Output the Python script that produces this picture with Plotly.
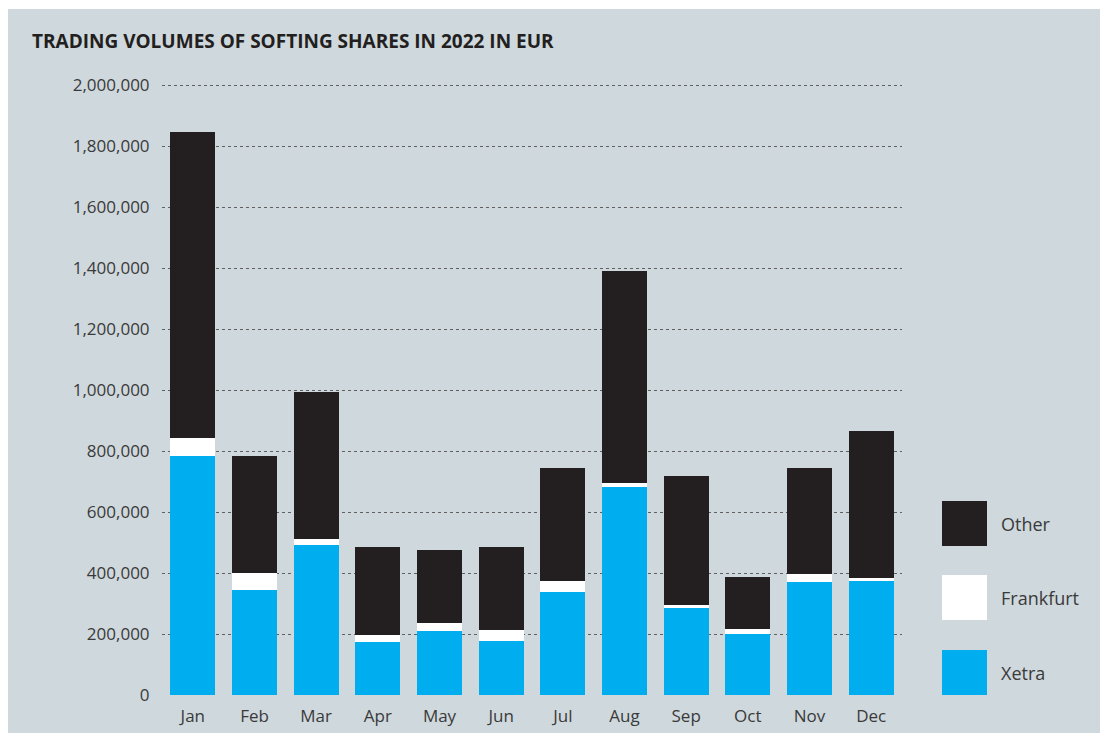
import plotly.graph_objects as go

months = ["Jan", "Feb", "Mar", "Apr", "May", "Jun", "Jul", "Aug", "Sep", "Oct", "Nov", "Dec"]
xetra = [782000, 345000, 493000, 175000, 210000, 177000, 338000, 683000, 286000, 200000, 371000, 374000]
frankfurt = [59000, 56000, 19000, 22000, 26000, 36000, 36000, 13000, 10000, 17000, 26000, 10000]
other = [1005000, 384000, 480000, 289000, 240000, 273000, 371000, 693000, 423000, 171000, 348000, 483000]
series_names = ["Other", "Frankfurt", "Xetra"]
y_ticks = [0, 200000, 400000, 600000, 800000, 1000000, 1200000, 1400000, 1600000, 1800000, 2000000]

title = "TRADING VOLUMES OF SOFTING SHARES IN 2022 IN EUR"

C_XETRA = "#00aeef"
C_FRA = "#ffffff"
C_OTHER = "#231f20"
BG = "#cfd8dd"
TXT = "#3a3a3a"
FONT = "Open Sans"

W, H = 1100, 733
L, R = 162, 902   # plot area x in px
T, B = 79, 695    # plot area y in px
PW, PH = R - L, B - T


def px(x):
    return (x - L) / PW


def py(y):
    return (B - y) / PH


fig = go.Figure()
colors = {"Xetra": C_XETRA, "Frankfurt": C_FRA, "Other": C_OTHER}
for name, vals in [("Xetra", xetra), ("Frankfurt", frankfurt), ("Other", other)]:
    fig.add_trace(go.Bar(x=months, y=vals, name=name, marker=dict(color=colors[name], line=dict(width=0)),
                         showlegend=False))

ymax = 2000000 * PH / (695 - 85)

shapes = [
    # white border of the original picture (top & left)
    dict(type="rect", xref="paper", yref="paper", x0=px(0), x1=px(W), y0=py(9), y1=py(0),
         fillcolor="white", line=dict(width=0), layer="below"),
    dict(type="rect", xref="paper", yref="paper", x0=px(0), x1=px(8), y0=py(H), y1=py(0),
         fillcolor="white", line=dict(width=0), layer="below"),
]
annotations = [
    dict(text="<b>" + title + "</b>", xref="paper", yref="paper", x=px(30), y=py(41),
         xanchor="left", yanchor="middle", showarrow=False,
         font=dict(family=FONT, size=19, color="#231f20")),
]
# legend drawn as big squares
leg_tops = {"Other": 501, "Frankfurt": 575, "Xetra": 650}
for name in series_names:
    t = leg_tops[name]
    shapes.append(dict(type="rect", xref="paper", yref="paper", x0=px(942), x1=px(987),
                       y0=py(t + 45), y1=py(t), fillcolor=colors[name], line=dict(width=0)))
    annotations.append(dict(text=name, xref="paper", yref="paper", x=px(999), y=py(t + 23),
                            xanchor="left", yanchor="middle", showarrow=False,
                            font=dict(family=FONT, size=18, color=TXT)))

fig.update_layout(
    width=W, height=H,
    margin=dict(l=L, r=W - R, t=T, b=H - B, pad=0, autoexpand=False),
    paper_bgcolor=BG, plot_bgcolor=BG,
    barmode="stack", bargap=0.27,
    font=dict(family=FONT, size=17, color=TXT),
    shapes=shapes, annotations=annotations,
    hovermode=False,
    xaxis=dict(showgrid=False, showline=False, zeroline=False, ticks="outside", ticklen=6,
               tickcolor="rgba(0,0,0,0)", tickfont=dict(size=17, color=TXT), automargin=False),
    yaxis=dict(range=[0, ymax], tickvals=y_ticks, tickformat=",", showgrid=True,
               gridcolor="#606060", griddash="dot", gridwidth=1, zeroline=False, showline=False,
               ticks="outside", ticklen=8, tickcolor="rgba(0,0,0,0)",
               tickfont=dict(size=17, color=TXT), automargin=False),
)

fig.write_html(
    "out.html",
    config={"displayModeBar": False},
    post_script="document.body.style.margin='0';document.body.style.overflow='hidden';",
)
